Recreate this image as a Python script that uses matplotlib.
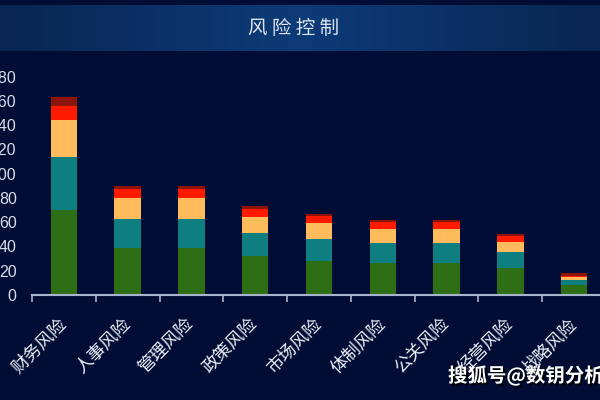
import numpy as np
import matplotlib
matplotlib.use("Agg")
import matplotlib.pyplot as plt
import matplotlib.patheffects as pe
from matplotlib.colors import LinearSegmentedColormap

plt.rcParams['font.family'] = ['Noto Sans CJK SC', 'DejaVu Sans']

# ---- data ----
categories = ['财务风险', '人事风险', '管理风险', '政策风险', '市场风险',
              '体制风险', '公关风险', '经营风险', '战略风险']
level1 = [70, 39, 39, 32, 28, 26.5, 26.5, 22.5, 8]      # green
level2 = [44, 24, 24, 19.5, 18, 16, 16, 13, 4.5]        # teal
level3 = [30, 17, 17, 13, 13.5, 12, 12, 8, 2]           # orange
level4 = [12, 7, 7, 6, 5.5, 5.5, 5.5, 5.5, 1.5]         # red
level5 = [7, 2.5, 2.5, 2.5, 2, 1.5, 1.5, 1, 2]          # dark red
y_ticks = list(range(0, 181, 20))

series = [level1, level2, level3, level4, level5]
colors = ['#2e6e14', '#0e7e80', '#ffbb5c', '#ff1a00', '#8c1408']

bg = '#020d35'
fig = plt.figure(figsize=(6, 4), dpi=100, facecolor=bg)

# title bar with horizontal gradient
tax = fig.add_axes([0, 1 - 51 / 400, 1, 46 / 400])
cmap = LinearSegmentedColormap.from_list('bar', ['#0a2652', '#0d3b78', '#0a2652'])
tax.imshow(np.linspace(0, 1, 256)[None, :], aspect='auto', cmap=cmap,
           extent=[0, 1, 0, 1])
tax.set_axis_off()
tax.text(0.49, 0.5, '风 险 控 制', color='#dfe6f2', fontsize=14,
         ha='center', va='center', transform=tax.transAxes)

# main chart
ax = fig.add_axes([32 / 600, 105 / 400, 574 / 600, 218.3 / 400])
ax.set_facecolor(bg)
x = np.arange(len(categories))
bottom = np.zeros(len(categories))
for vals, c in zip(series, colors):
    ax.bar(x, vals, width=0.415, bottom=bottom, color=c, zorder=2)
    bottom += np.array(vals)

ax.set_xlim(-0.5, len(categories) - 0.5)
ax.set_ylim(0, 180)
ax.set_yticks(y_ticks)
ax.tick_params(axis='y', length=0, pad=11, labelsize=11.5, labelcolor='#d8dde8')
for lab in ax.get_yticklabels():
    lab.set_fontfamily(['Liberation Sans', 'DejaVu Sans'])

ax.set_xticks(x)
ax.set_xticklabels(categories)
ax.set_xticks(np.arange(-0.5, len(categories), 1), minor=True)
ax.tick_params(axis='x', which='major', length=0, pad=19, labelsize=12.5,
               labelcolor='#eef1f7')
ax.tick_params(axis='x', which='minor', length=5, width=1.2, color='#a8b4cc')
plt.setp(ax.get_xticklabels(), rotation=45, ha='right', va='center',
         rotation_mode='anchor')

for s in ['top', 'right', 'left']:
    ax.spines[s].set_visible(False)
ax.spines['bottom'].set_color('#a8b4cc')
ax.spines['bottom'].set_linewidth(1.5)

# watermark
fig.text(448 / 600, 1 - 376 / 400, '搜狐号@数钥分析云', color='white',
         fontsize=14, fontweight='bold', ha='left', va='center',
         path_effects=[pe.withSimplePatchShadow(offset=(1.5, -1.5),
                                                shadow_rgbFace='black', alpha=0.9)])

fig.savefig('out.png', dpi=100, facecolor=bg)
